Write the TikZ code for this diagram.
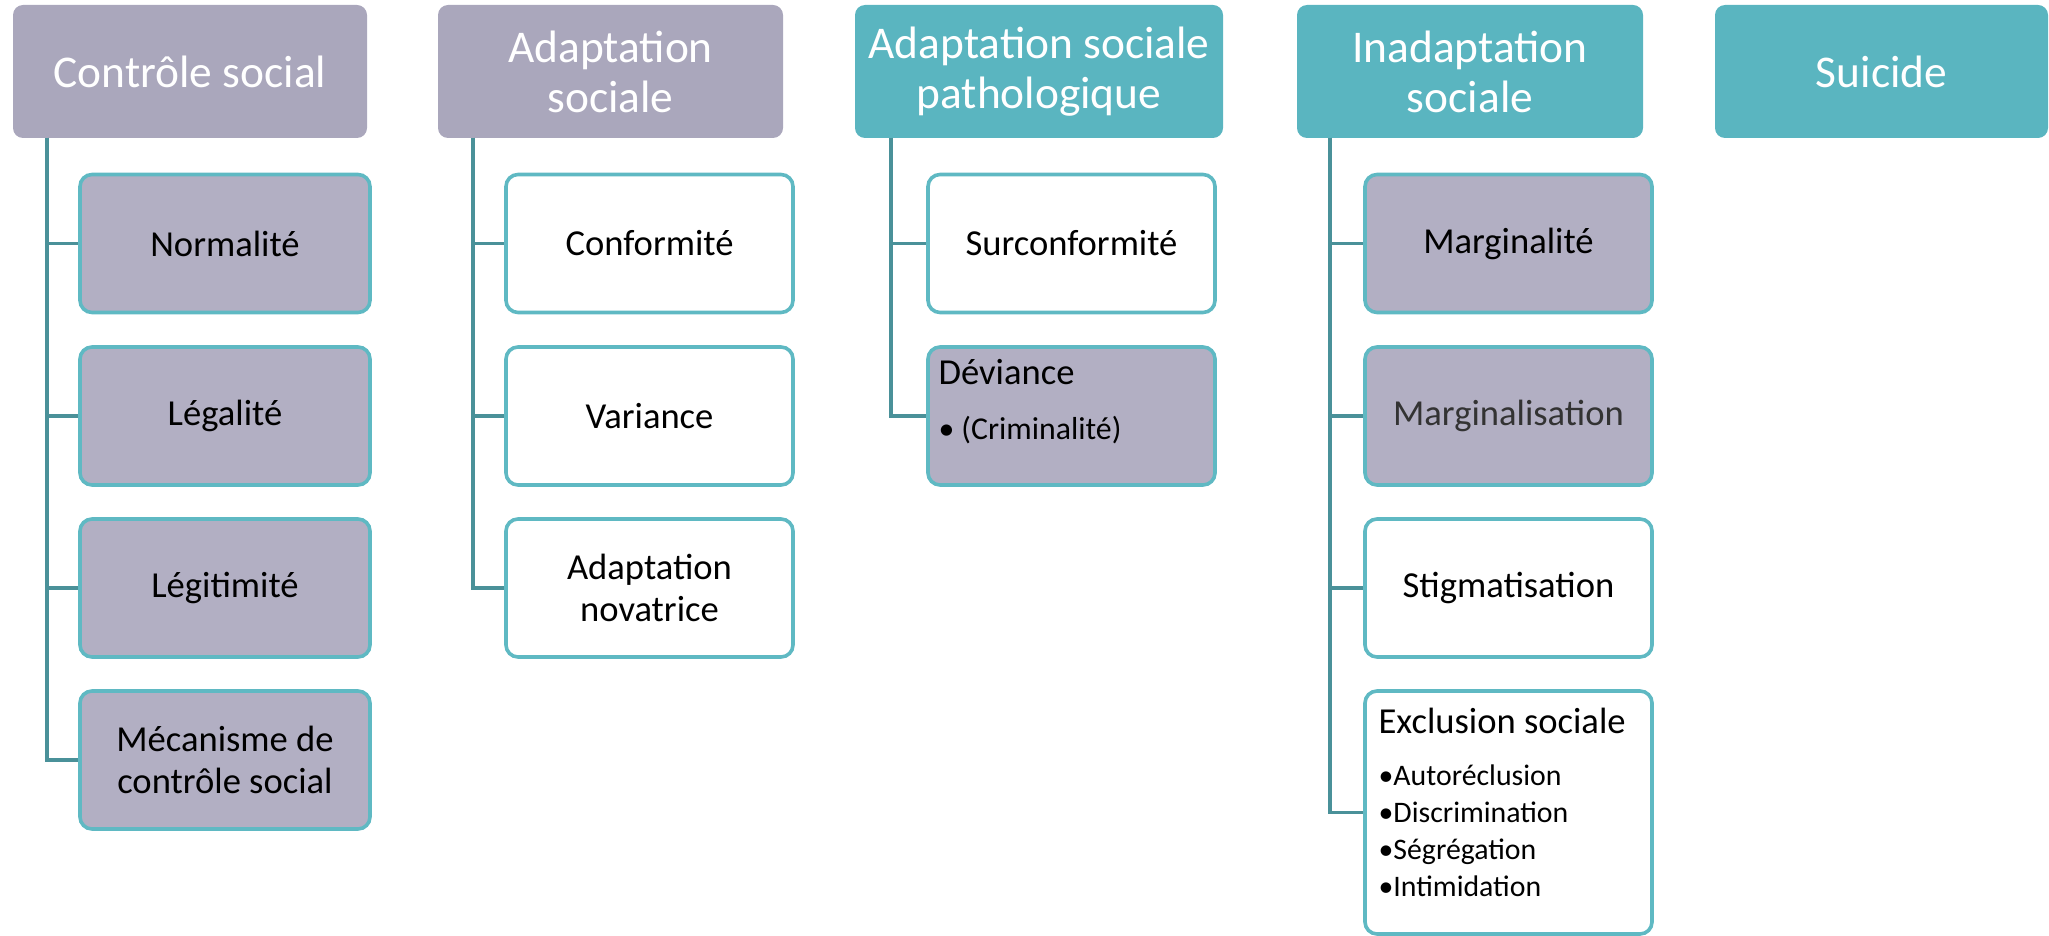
\documentclass[tikz,border=0pt]{standalone}
\usepackage{fontspec}
\setmainfont{Carlito}
\usepackage{tikz}
\usetikzlibrary{calc}

\definecolor{hdrgray}{HTML}{AAA7BC}
\definecolor{leafgray}{HTML}{B2AFC3}
\definecolor{teal}{HTML}{5AB5C0}
\definecolor{rim}{HTML}{5FB9C3}
\definecolor{trunk}{HTML}{4A9199}

\begin{document}
\begin{tikzpicture}[x=0.5pt,y=-0.5pt,
    hdr/.style={rectangle,rounded corners=5pt,inner sep=0pt,minimum height=66.5pt,
      text=white,align=center,font=\fontsize{22.7}{25}\selectfont},
    leaf/.style={rectangle,rounded corners=6pt,draw=rim,line width=1.8pt,fill=white,
      inner sep=0pt,minimum width=143.5pt,minimum height=69pt,
      align=center,font=\fontsize{18.3}{21}\selectfont},
    intitle/.style={anchor=base west,inner sep=0pt},
    inlist/.style={anchor=base west,inner sep=0pt,text width=135pt,align=left},
    link/.style={draw=trunk,line width=1.6pt}]
    \useasboundingbox (0,0) rectangle (2049,936);

    % headers
    \node[hdr,fill=hdrgray,minimum width=177pt] (ctrl) at (190,71.5) {Contrôle social};
    \node[hdr,fill=hdrgray,minimum width=172.5pt] (adapt) at (610.5,71.5) {Adaptation\\sociale};
    \node[hdr,fill=teal,minimum width=184pt] (patho) at (1039,71.5) {Adaptation sociale\\pathologique};
    \node[hdr,fill=teal,minimum width=173pt] (inadapt) at (1470,71.5) {Inadaptation\\sociale};
    \node[hdr,fill=teal,minimum width=166.5pt] (suicide) at (1881.5,71.5) {Suicide};

    % column 1
    \node[leaf,fill=leafgray,minimum width=145pt] (normal) at (225,243.5) {Normalité};
    \node[leaf,fill=leafgray,minimum width=145pt] (legal) at (225,416) {Légalité};
    \node[leaf,fill=leafgray,minimum width=145pt] (legit) at (225,588) {Légitimité};
    \node[leaf,fill=leafgray,minimum width=145pt] (meca) at (225,760) {Mécanisme de\\contrôle social};

    % column 2
    \node[leaf] (conform) at (649.5,243.5) {Conformité};
    \node[leaf] (variance) at (649.5,416) {Variance};
    \node[leaf] (novat) at (649.5,588) {Adaptation\\novatrice};

    % column 3
    \node[leaf,fill=leafgray] (deviance) at (1071.5,416) {};
    \node[leaf] (surconf) at (1071.5,243.5) {Surconformité};
    \node[intitle,font=\fontsize{18.3}{21}\selectfont] (devhead)
      at ($(deviance.north west)+(12,39)$) {Déviance};
    \node[intitle,font=\fontsize{15.9}{19}\selectfont] (devlist)
      at ($(devhead.base west)+(0,55)$) {\textbullet\hspace{3.5pt}(Criminalité)};

    % column 4
    \node[leaf,fill=leafgray] (marginalite) at (1508.5,243.5) {Marginalité};
    \node[leaf,fill=leafgray,text=black!80] (marginalisation) at (1508.5,416) {Marginalisation};
    \node[leaf] (stigma) at (1508.5,588) {Stigmatisation};
    \node[leaf,minimum height=121.5pt] (exclusion) at (1508.5,812.5) {};
    \node[intitle,font=\fontsize{18.3}{21}\selectfont] (exhead)
      at ($(exclusion.north west)+(15,44)$) {Exclusion sociale};
    \node[inlist,font=\fontsize{14.9}{18.5}\selectfont] (exlist)
      at ($(exhead.base west)+(0,52)$)
      {\textbullet Autoréclusion\\
       \textbullet Discrimination\\
       \textbullet Ségrégation\\
       \textbullet Intimidation};

    % trunks
    \coordinate (t1) at (47,138);
    \coordinate (t2) at (473,138);
    \coordinate (t3) at (891,138);
    \coordinate (t4) at (1330,138);

    \foreach \c in {normal,legal,legit,meca}
      \draw[link] (t1) |- (\c.west);
    \foreach \c in {conform,variance,novat}
      \draw[link] (t2) |- (\c.west);
    \foreach \c in {surconf,deviance}
      \draw[link] (t3) |- (\c.west);
    \foreach \c in {marginalite,marginalisation,stigma,exclusion}
      \draw[link] (t4) |- (\c.west);
  \end{tikzpicture}
\end{document}
